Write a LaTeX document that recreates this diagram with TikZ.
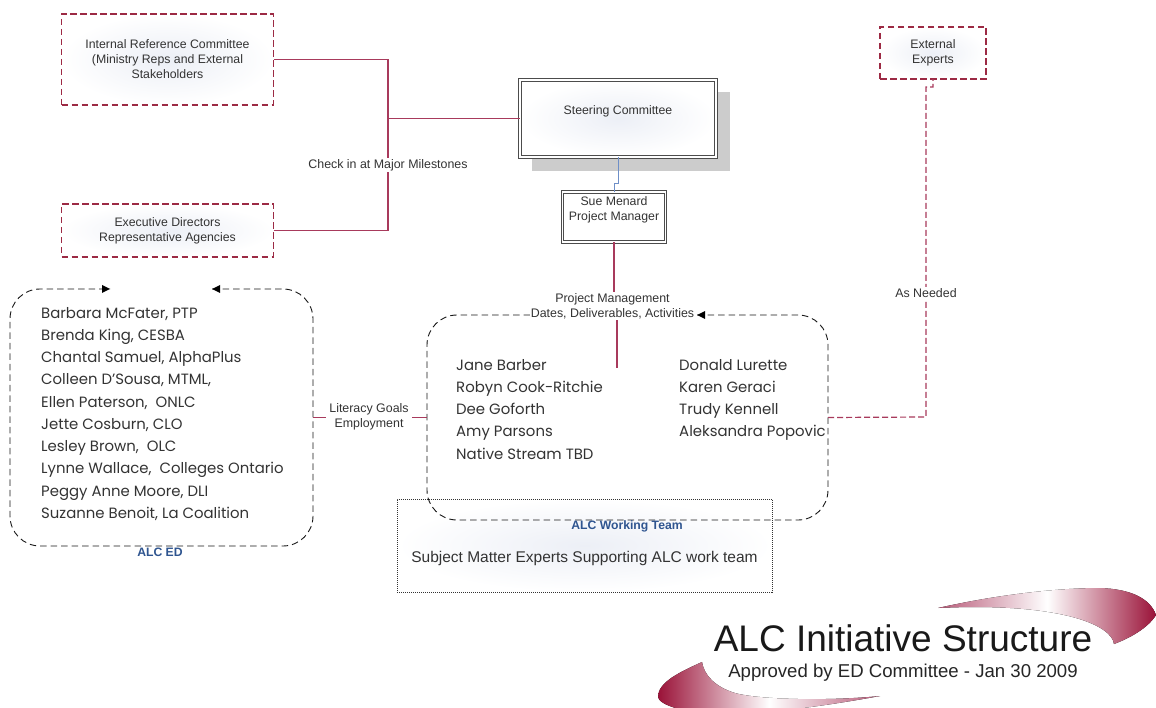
\documentclass[tikz,border=0pt]{standalone}
\usepackage{fontspec}
\setmainfont{Liberation Sans}
\newfontfamily\listfont{Poppins}
\usetikzlibrary{arrows.meta,shadings}
\definecolor{wine}{HTML}{9C2A44}
\definecolor{linkred}{HTML}{A83A5C}
\definecolor{linkblue}{HTML}{6E8FC8}
\definecolor{teamblue}{HTML}{2F5590}
\definecolor{glow}{HTML}{ECEFF6}
\definecolor{swoosh}{HTML}{9A1238}
\definecolor{swooshtip}{HTML}{B85A78}
\definecolor{txt}{HTML}{333333}
\tikzset{
  x=1pt,y=-1pt,
  box/.style={minimum width=#1,inner sep=0pt,outer sep=0pt,align=center,text=txt,font=\fontsize{12.3}{15}\selectfont},
  redbox/.style={draw=wine,line width=1.8pt,dash pattern=on 6.5pt off 3.5pt,inner color=glow,outer color=white},
  dbl/.style={draw=black!70,double=white,double distance=1.3pt,line width=1.3pt},
  link/.style={draw=linkred,line width=1.2pt},
  lab/.style={fill=white,inner sep=1pt,align=center,text=txt,font=\fontsize{12.4}{15}\selectfont},
  dashrnd/.style={draw=black!90,line width=0.9pt,dash pattern=on 6.5pt off 4pt},
  tip/.style={fill=black},
  names/.style={inner sep=0pt,anchor=north west,align=left,text=black!80,font=\listfont\fontsize{14.9}{22.25}\selectfont},
  team/.style={inner sep=0pt,text=teamblue,font=\bfseries\fontsize{12.2}{14}\selectfont}
}
\begin{document}
\begin{tikzpicture}
\useasboundingbox (0,0) rectangle (1156,708);
\fill[white] (0,0) rectangle (1156,708);
% swooshes
\fill[left color=swooshtip,right color=swoosh,middle color=white] (938,608) .. controls (1000,594) and (1060,588) .. (1100,588) .. controls (1130,589) and (1150,598) .. (1156,615) .. controls (1148,628) and (1130,638) .. (1114,644) .. controls (1112,625) and (1060,602) .. (938,608) -- cycle;
\fill[left color=swoosh,right color=swooshtip,middle color=white] (702,662) .. controls (680,672) and (658,682) .. (658,697) .. controls (660,704) and (672,708) .. (700,714) .. controls (760,716) and (830,705) .. (880,696) .. controls (830,701) and (760,700) .. (735,693) .. controls (715,687) and (704,675) .. (702,662) -- cycle;
% shadow
\fill[black!20] (532,92) rectangle (730,171);
% boxes
\node[box=212pt,minimum height=91pt,redbox] (irc) at (167.5,59.5) {};
\node[box=212pt] (irct) at (167.5,59.5) {Internal Reference Committee\\(Ministry Reps and External\\Stakeholders};
\node[box=212pt,minimum height=53pt,redbox] (exec) at (167.5,230.5) {};
\node[box=212pt] (exect) at (167.5,230.5) {Executive Directors\\Representative Agencies};
\node[box=106pt,minimum height=52pt,redbox] (ext) at (933,53) {};
\node[box=106pt] (extt) at (933,53) {External\\Experts};
\node[box=196pt,minimum height=77pt,dbl,inner color=glow,outer color=white] (steer) at (618,118.5) {};
\node[box=196pt] (steert) at (618,111) {Steering Committee};
\node[box=103pt,minimum height=50pt,dbl,fill=white] (pm) at (614,217) {};
\node[box=103pt,anchor=north] (pmt) at (614,197) {Sue Menard\\Project Manager};
% dotted box
\node[box=375pt,minimum height=93pt,draw=black!80,line width=0.9pt,dash pattern=on 1pt off 1pt,inner color=glow,outer color=white] (sme) at (584.5,545.5) {};
\node[inner sep=0pt,text=txt,font=\fontsize{15.5}{18}\selectfont] (smet) at (584.5,558) {Subject Matter Experts Supporting ALC work team};
% rounded dashed frames
\path[dashrnd,draw] (212,289) -- (283,289) arc[start angle=90,end angle=0,x radius=30,y radius=-30] -- (313,516) arc[start angle=0,end angle=-90,x radius=30,y radius=-30] -- (40,546) arc[start angle=-90,end angle=-180,x radius=30,y radius=-30] -- (10,319) arc[start angle=180,end angle=90,x radius=30,y radius=-30] -- (110,289);
\fill[tip] (102,285) -- (110,289) -- (102,293) -- cycle;
\fill[tip] (220,285) -- (212,289) -- (220,293) -- cycle;
\node[inner sep=0pt,minimum width=303pt,minimum height=257pt] (ed) at (161.5,417.5) {};
\path[dashrnd,draw] (697,315) -- (798,315) arc[start angle=90,end angle=0,x radius=30,y radius=-30] -- (828,490) arc[start angle=0,end angle=-90,x radius=30,y radius=-30] -- (457,520) arc[start angle=-90,end angle=-180,x radius=30,y radius=-30] -- (427,345) arc[start angle=180,end angle=90,x radius=30,y radius=-30] -- (530,315);
\fill[tip] (705,311) -- (697,315) -- (705,319) -- cycle;
\node[inner sep=0pt,minimum width=401pt,minimum height=205pt] (wt) at (627.5,417.5) {};
% connectors
\coordinate (junc) at (388,118.5);
\draw[link] (irc.east) -| (junc);
\draw[link] (exec.east) -| (junc);
\draw[link] (junc) -- (steer.west);
\node[lab] (check) at (388,165) {Check in at Major Milestones};
\coordinate (bend) at (618,184);
\draw[linkblue,line width=1pt] (steer.south) -- (bend) -| (pm.north);
\coordinate (pmend) at (617,368);
\draw[link] (pm.south) |- (617,300) -- (pmend);
\node[lab] (pml) at (612.5,306) {Project Management\\Dates, Deliverables, Activities};
\draw[link] (ed.east) -- (wt.west);
\node[lab,inner xsep=3pt] (lit) at (369,417) {Literacy Goals\\Employment};
\coordinate (bendr) at (926,417);
\coordinate (bendt) at (926,87);
\draw[link,dash pattern=on 6pt off 3pt] (wt.east) -- (bendr) -- (bendt) -| (ext.south);
\node[lab] (need) at (926,293) {As Needed};
% team labels
\node[team] (edl) at (160,552) {ALC ED};
\node[team] (wtl) at (627,526) {ALC Working Team};
% name lists
\node[names] (edn) at (41,307) {Barbara McFater, PTP\\Brenda King, CESBA\\Chantal Samuel, AlphaPlus\\Colleen D’Sousa, MTML,\\Ellen Paterson,\ \ ONLC\\Jette Cosburn, CLO\\Lesley Brown,\ \ OLC\\Lynne Wallace,\ \ Colleges Ontario\\Peggy Anne Moore, DLI\\Suzanne Benoit, La Coalition};
\node[names] (wt1) at (456,359) {Jane Barber\\Robyn Cook-Ritchie\\Dee Goforth\\Amy Parsons\\Native Stream TBD};
\node[names] (wt2) at (679,359) {Donald Lurette\\Karen Geraci\\Trudy Kennell\\Aleksandra Popovic};
% title
\node[inner sep=0pt,font=\fontsize{37}{40}\selectfont,text=black!90] (title) at (903,638) {ALC Initiative Structure};
\node[inner sep=0pt,font=\fontsize{18.6}{22}\selectfont,text=black!85] (sub) at (903,673) {Approved by ED Committee - Jan 30 2009};
\end{tikzpicture}
\end{document}
